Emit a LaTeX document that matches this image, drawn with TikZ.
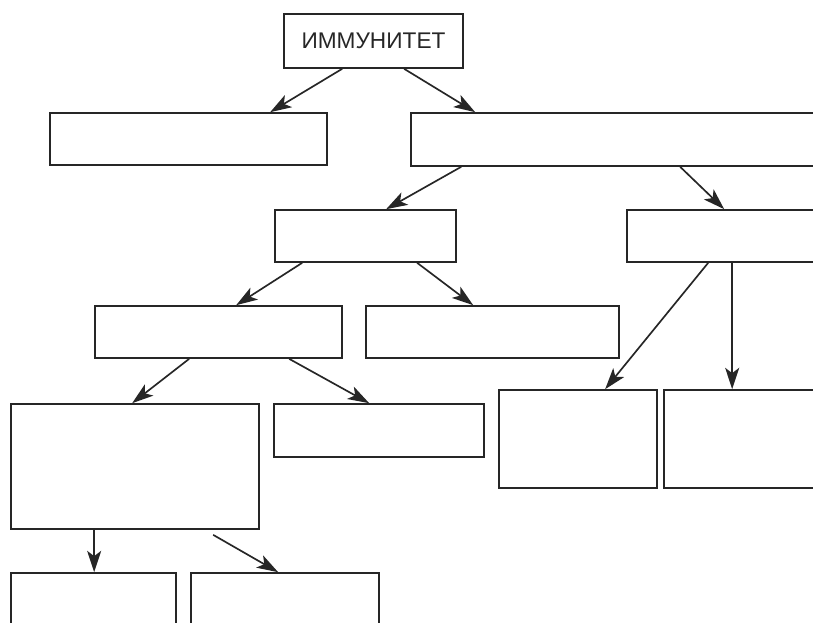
\documentclass[tikz,border=0pt]{standalone}
\usepackage{fontspec}
\setmainfont{Liberation Sans}
\usetikzlibrary{fit,calc,arrows.meta}
\definecolor{ink}{HTML}{262626}
\tikzset{
  box/.style={draw=ink, line width=1.25pt, inner sep=0pt, fill=none},
  arr/.style={draw=ink, line width=1.25pt, -{Stealth[length=16pt,width=10.5pt,inset=4pt]}},
}
\begin{document}
\begin{tikzpicture}[x=0.75pt,y=-0.75pt]
\useasboundingbox (0,0) rectangle (813,622);
\fill[white] (0,0) rectangle (813,622);
\clip (0,0) rectangle (813,622);
% boxes
\node[box, fit={(284,14) (463,68)}] (top) {};
\node[text=ink, font=\fontsize{17}{20}\selectfont] (toplabel) at (top.center) {ИММУНИТЕТ};
\node[box, fit={(50,113) (327,165)}] (L1) {};
\node[box, fit={(411,113) (840,166)}] (R1) {};
\node[box, fit={(275,210) (456,262)}] (A) {};
\node[box, fit={(627,210) (840,262)}] (B) {};
\node[box, fit={(95,306) (342,358)}] (C) {};
\node[box, fit={(366,306) (619,358)}] (D) {};
\node[box, fit={(11,404) (259,529)}] (E) {};
\node[box, fit={(274,404) (484,457)}] (F) {};
\node[box, fit={(499,390) (657,488)}] (G) {};
\node[box, fit={(664,390) (840,488)}] (H) {};
\node[box, fit={(11,573) (176,650)}] (I) {};
\node[box, fit={(191,573) (379,650)}] (J) {};
% arrows
\draw[arr] ($(top.south west)+(59,0)$) -- ($(L1.north west)+(221,0)$);
\draw[arr] ($(top.south west)+(121,0)$) -- ($(R1.north west)+(65,0)$);
\draw[arr] ($(R1.south west)+(51,0)$) -- ($(A.north west)+(112,0)$);
\draw[arr] ($(R1.south west)+(270,0)$) -- ($(B.north west)+(98,0)$);
\draw[arr] ($(A.south west)+(28,0)$) -- ($(C.north west)+(142,0)$);
\draw[arr] ($(A.south west)+(143,0)$) -- ($(D.north west)+(108,0)$);
\draw[arr] ($(B.south west)+(82,0)$) -- ($(G.north west)+(107,0)$);
\draw[arr] ($(B.south west)+(106,0)$) -- ($(H.north west)+(69,0)$);
\draw[arr] ($(C.south west)+(95,0)$) -- ($(E.north west)+(122,0)$);
\draw[arr] ($(C.south west)+(195,0)$) -- ($(F.north west)+(96,0)$);
\draw[arr] ($(E.south west)+(84,0)$) -- ($(I.north west)+(84,0)$);
\draw[arr] ($(E.south west)+(203,5)$) -- ($(J.north west)+(88,0)$);
\end{tikzpicture}
\end{document}
